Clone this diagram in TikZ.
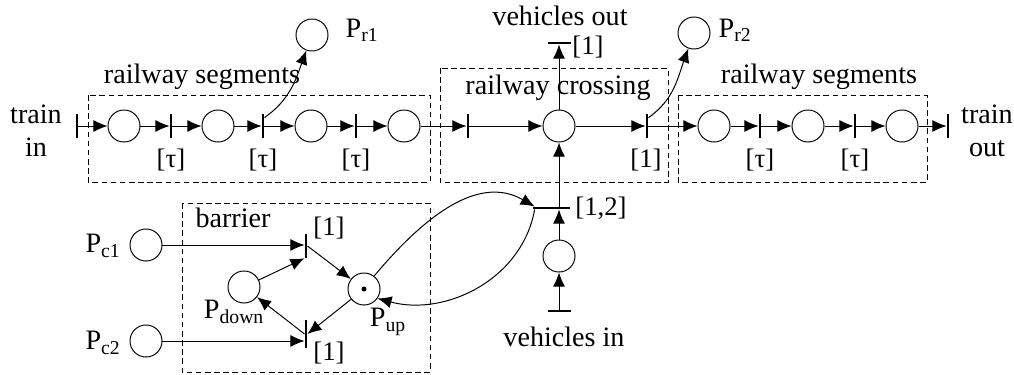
\documentclass[tikz,border=0pt]{standalone}
\usepackage{fontspec}
\setmainfont{Liberation Serif}
\usetikzlibrary{arrows.meta}

\tikzset{
  place/.style={circle, draw, line width=0.7pt, minimum size=0.8cm, inner sep=0pt},
  vbar/.style={rectangle, fill=black, minimum width=1.7pt, minimum height=0.6cm, inner sep=0pt},
  hbar/.style={rectangle, fill=black, minimum width=0.575cm, minimum height=1.7pt, inner sep=0pt},
  flow/.style={-{Latex[length=10pt,width=8.5pt]}, line width=0.7pt},
  group/.style={draw, dash pattern=on 4pt off 2.5pt, line width=0.7pt},
  lbl/.style={font=\fontsize{20}{23.5}\selectfont, inner sep=0pt, align=center},
  delay/.style={font=\fontsize{19}{22}\selectfont, inner sep=0pt}
}

\begin{document}
\begin{tikzpicture}[x=0.025cm, y=-0.025cm]
    \useasboundingbox (0,0) rectangle (1014,375);

    % Draw nodes
    \node[vbar] (tin) at (77,126) {};
    \node[place] (p1) at (124,126) {};
    \node[vbar] (t1) at (171,126) {};
    \node[place] (p2) at (218,126) {};
    \node[vbar] (t2) at (263,126) {};
    \node[place] (p3) at (311,126) {};
    \node[vbar] (t3) at (356,126) {};
    \node[place] (p4) at (404,126) {};
    \node[vbar] (t4) at (468,126) {};
    \node[place] (pc) at (559,126) {};
    \node[vbar] (t5) at (647,126) {};
    \node[place] (p5) at (714,126) {};
    \node[vbar] (t6) at (760,126) {};
    \node[place] (p6) at (808,126) {};
    \node[vbar] (t7) at (855,126) {};
    \node[place] (p7) at (902,126) {};
    \node[vbar] (tout) at (948,126) {};

    \node[place] (pr1) at (312,35) {};
    \node[place] (pr2) at (694,33) {};
    \node[hbar] (tvo) at (559,43) {};
    \node[hbar, minimum width=0.925cm] (t12) at (551.5,208) {};
    \node[place] (pvin) at (559,256) {};
    \node[hbar] (tvin) at (559,311) {};

    \node[place] (pc1) at (146,245) {};
    \node[place] (pc2) at (146,341) {};
    \node[vbar] (tb) at (306,246) {};
    \node[vbar, minimum height=0.7cm] (bb) at (306,334) {};
    \node[place] (pdown) at (244,287) {};
    \node[place] (pup) at (364,289) {};
    \fill (pup) circle[radius=2.5];

    % Groups
    \draw[group] (88,95) rectangle (430,182);
    \draw[group] (440,68) rectangle (668,182);
    \draw[group] (678,95) rectangle (927,182);
    \draw[group] (182,203) rectangle (430,372);

    % Draw connections
    \foreach \a/\b in {tin/p1, p1/t1, t1/p2, p2/t2, t2/p3, p3/t3, t3/p4, p4/t4,
                       t4/pc, pc/t5, t5/p5, p5/t6, t6/p6, p6/t7, t7/p7, p7/tout}
        \draw[flow] (\a) -- (\b);
    \draw[flow] (t2.80) to[out=35, in=-110] (pr1);
    \draw[flow] (t5.80) to[out=35, in=-110] (pr2);
    \draw[flow] (pc) -- (tvo);
    \draw[flow] (t12.north -| pc) -- (pc);
    \draw[flow] (pvin) -- (pvin |- t12.south);
    \draw[flow] (tvin) -- (pvin);

    \draw[flow] (pc1) -- (pc1 -| tb.west);
    \draw[flow] (pc2) -- (pc2 -| bb.west);
    \draw[flow] (pdown) -- (tb.south west);
    \draw[flow] (tb.east) -- (pup);
    \draw[flow] (pup) -- (bb.east);
    \draw[flow] (bb.west) -- (pdown);
    \draw[flow] (pup.52) to[out=50, in=150] (t12.175);
    \draw[flow] (t12.185) to[out=-100, in=-15] (pup.-35);

    % Labels
    \node[lbl] (trainin) at (36,131) {train\\in};
    \node[lbl] (trainout) at (987,131) {train\\out};
    \node[lbl] (segl) at (202,77) {railway segments};
    \node[lbl] (segr) at (819,77) {railway segments};
    \node[lbl] (cross) at (558,88) {railway crossing};
    \node[lbl] (vout) at (560,16) {vehicles out};
    \node[lbl] (vin) at (564,337) {vehicles in};
    \node[lbl] (barrier) at (233,218) {barrier};
    \node[lbl] (lpr1) at (362,30) {P\textsubscript{r1}};
    \node[lbl] (lpr2) at (735,30) {P\textsubscript{r2}};
    \node[lbl] (lpc1) at (103,246) {P\textsubscript{c1}};
    \node[lbl] (lpc2) at (103,343) {P\textsubscript{c2}};
    \node[lbl] (lpdown) at (234,312) {P\textsubscript{down}};
    \node[lbl] (lpup) at (388,322) {P\textsubscript{up}};
    \foreach \t in {t1, t2, t3, t6, t7}
        \node[delay] at (\t |- 0,160) {[τ]};
    \node[delay] (d5) at (646,160) {[1]};
    \node[delay] (dvo) at (588,47) {[1]};
    \node[delay] (d12) at (601,208) {[1,2]};
    \node[delay] (dtb) at (329,228) {[1]};
    \node[delay] (dbb) at (329,353) {[1]};
\end{tikzpicture}
\end{document}
